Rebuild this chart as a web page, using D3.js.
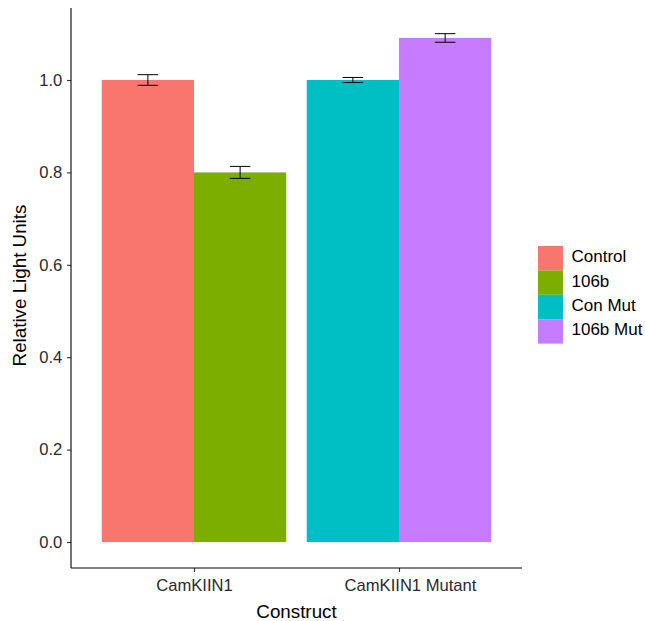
<!DOCTYPE html>
<html>
<head>
<meta charset="utf-8">
<script src="https://cdn.jsdelivr.net/npm/d3@7"></script>
<style>
  body { margin: 0; background: #fff; }
  svg { display: block; font-family: "Liberation Sans", Arial, sans-serif; }
</style>
</head>
<body>
<svg id="chart" width="645" height="621"></svg>
<script>
// Relative luciferase readings per construct and treatment
const constructs = ["CamKIIN1", "CamKIIN1 Mutant"];
const treatments = ["Control", "106b", "Con Mut", "106b Mut"];
const treatmentConstruct = ["CamKIIN1", "CamKIIN1", "CamKIIN1 Mutant", "CamKIIN1 Mutant"];
const means = [1.0, 0.80, 1.0, 1.091];
const errors = [0.0115, 0.013, 0.0055, 0.0093];
const colors = ["#F8766D", "#7CAE00", "#00BFC4", "#C77CFF"];
const yTicks = [0.0, 0.2, 0.4, 0.6, 0.8, 1.0];

const svg = d3.select("#chart");
const plotLeft = 71, plotRight = 522, plotTop = 8, plotBottom = 568;

const x = d3.scalePoint().domain(constructs).range([plotLeft, plotRight]).padding(0.6);
const step = x.step();
const y = d3.scaleLinear().domain([0, 1]).range([542, 80]);

// dodge position inside each construct group
const groupMembers = c => treatments.filter((t, i) => treatmentConstruct[i] === c);
const inner = d3.scaleBand().domain([0, 1]).range([-0.45 * step, 0.45 * step]);

const data = treatments.map((t, i) => ({
  t, c: treatmentConstruct[i], v: means[i], e: errors[i], col: colors[i],
  k: groupMembers(treatmentConstruct[i]).indexOf(t)
}));

// bars
svg.append("g").selectAll("rect").data(data).join("rect")
  .attr("x", d => x(d.c) + inner(d.k))
  .attr("width", inner.bandwidth())
  .attr("y", d => y(d.v))
  .attr("height", d => y(0) - y(d.v))
  .attr("fill", d => d.col);

// error bars
const capHalf = 0.05 * step;
const eb = svg.append("g").attr("stroke", "#000").attr("stroke-width", 1).attr("fill", "none");
data.forEach(d => {
  const cx = x(d.c) + inner(d.k) + inner.bandwidth() / 2;
  eb.append("line").attr("x1", cx).attr("x2", cx).attr("y1", y(d.v + d.e)).attr("y2", y(d.v - d.e));
  eb.append("line").attr("x1", cx - capHalf).attr("x2", cx + capHalf).attr("y1", y(d.v + d.e)).attr("y2", y(d.v + d.e));
  eb.append("line").attr("x1", cx - capHalf).attr("x2", cx + capHalf).attr("y1", y(d.v - d.e)).attr("y2", y(d.v - d.e));
});

// axes
const yAxis = d3.axisLeft(y).tickValues(yTicks).tickFormat(d3.format(".1f")).tickSize(4).tickPadding(4.7);
const gy = svg.append("g").attr("transform", `translate(${plotLeft},0)`).call(yAxis);
gy.select(".domain").remove();
gy.append("line").attr("x1", 0).attr("x2", 0).attr("y1", plotTop).attr("y2", plotBottom).attr("stroke", "#000").attr("stroke-width", 1.1);

const xAxis = d3.axisBottom(x).tickSize(4).tickPadding(7.3);
const gx = svg.append("g").attr("transform", `translate(0,${plotBottom})`).call(xAxis);
gx.select(".domain").remove();
gx.append("line").attr("x1", plotLeft).attr("x2", plotRight).attr("y1", 0).attr("y2", 0).attr("stroke", "#000").attr("stroke-width", 1.1);
// the second category label sits a little right of its tick
gx.selectAll(".tick text").attr("dx", (d, i) => i === 1 ? 11 : 0);

svg.selectAll(".tick line").attr("stroke", "#333").attr("stroke-width", 1.1);
svg.selectAll(".tick text").attr("fill", "#2a2a2a").style("font-size", "16.6px").style("font-family", "Liberation Sans, Arial, sans-serif");

// axis titles
svg.append("text").attr("x", (plotLeft + plotRight) / 2).attr("y", 617.5)
  .attr("text-anchor", "middle").style("font-size", "18.8px").attr("fill", "#000").text("Construct");
svg.append("text").attr("transform", `translate(26,${(plotTop + plotBottom) / 2 - 2.5}) rotate(-90)`)
  .attr("text-anchor", "middle").style("font-size", "18.8px").attr("fill", "#000").text("Relative Light Units");

// legend
const lg = svg.append("g").attr("transform", "translate(538,246)");
const keyH = 24.4;
treatments.forEach((t, i) => {
  lg.append("rect").attr("x", 0).attr("y", i * keyH).attr("width", 25).attr("height", keyH).attr("fill", colors[i]);
  lg.append("text").attr("x", 33.5).attr("y", i * keyH + keyH / 2 + 4).style("font-size", "17px").attr("fill", "#000").text(t);
});
</script>
</body>
</html>
